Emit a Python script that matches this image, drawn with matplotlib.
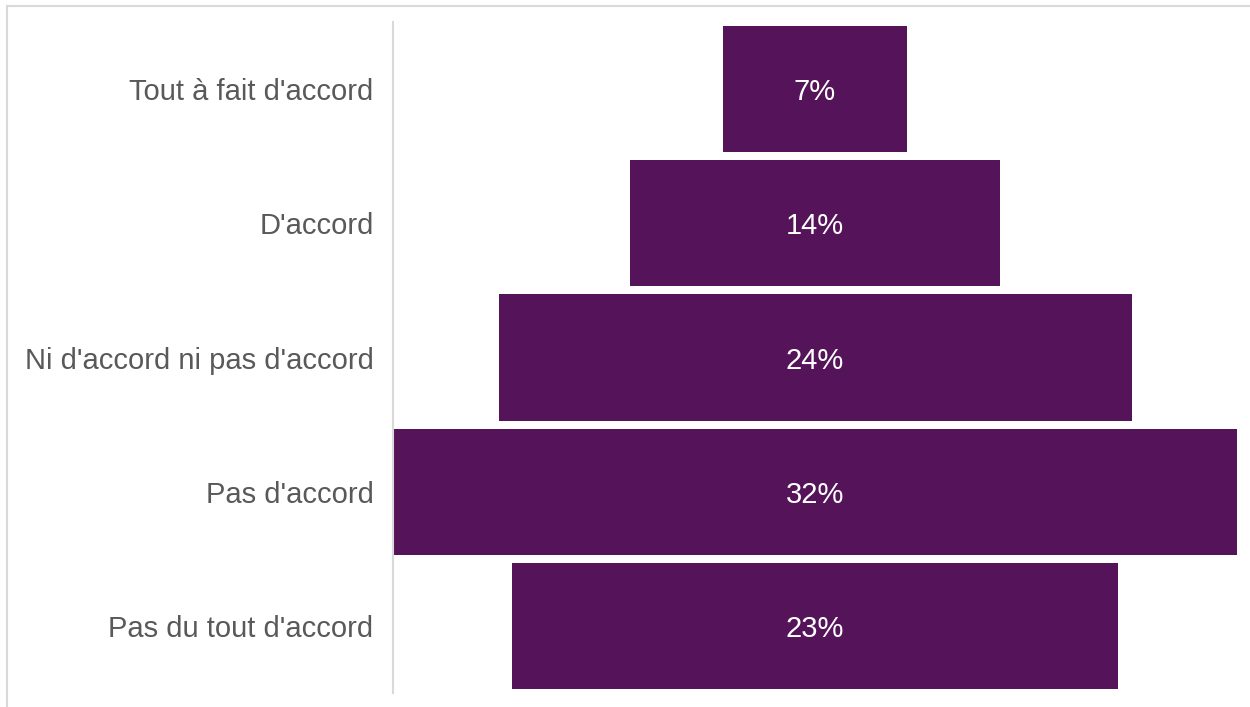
import matplotlib.pyplot as plt
from matplotlib.lines import Line2D

categories = ["Tout à fait d'accord", "D'accord", "Ni d'accord ni pas d'accord",
              "Pas d'accord", "Pas du tout d'accord"]
values = [7, 14, 24, 32, 23]

bar_color = "#551459"
text_color = "#595959"

plt.rcParams['font.family'] = ['Liberation Sans', 'DejaVu Sans']

fig = plt.figure(figsize=(12.5, 7.07), dpi=100)
ax = fig.add_axes([393 / 1250, 1 - 693 / 707, (1237 - 393) / 1250, (693 - 22) / 707])

# centred bars give the funnel shape
lefts = [-v / 2 for v in values]
ax.barh(range(len(values)), values, left=lefts, height=0.94, color=bar_color)

for i, v in enumerate(values):
    ax.text(0, i, f"{v}%", ha="center", va="center_baseline", color="white", fontsize=21)

ax.set_xlim(-max(values) / 2, max(values) / 2)
ax.set_ylim(len(values) - 0.5, -0.5)
ax.set_yticks(range(len(categories)))
ax.set_yticklabels(categories, fontsize=21, color=text_color, va="center_baseline")
ax.tick_params(axis="y", length=0, pad=14)
ax.set_xticks([])

for side in ["top", "right", "bottom"]:
    ax.spines[side].set_visible(False)
ax.spines["left"].set_color("#d9d9d9")
ax.spines["left"].set_linewidth(1.5)

# thin frame on the top and left edges
fig.add_artist(Line2D([7 / 1250, 1], [1 - 6 / 707, 1 - 6 / 707], color="#d9d9d9", lw=1.5))
fig.add_artist(Line2D([7 / 1250, 7 / 1250], [0, 1 - 6 / 707], color="#d9d9d9", lw=1.5))

fig.savefig("out.png", dpi=100)
